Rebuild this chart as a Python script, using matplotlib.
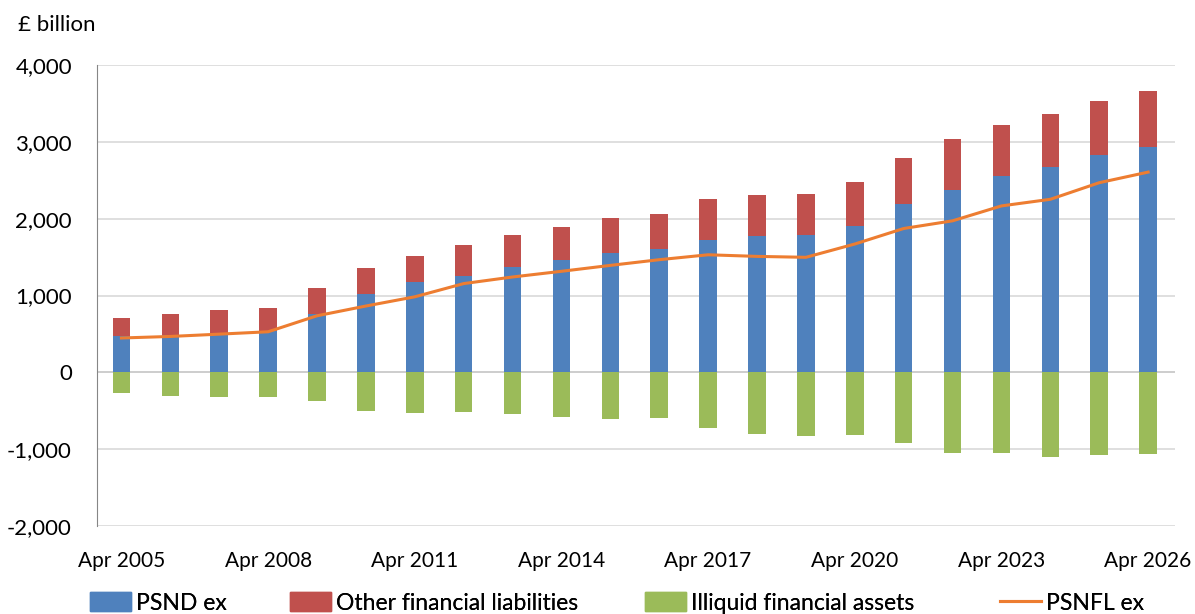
import numpy as np
import matplotlib.pyplot as plt
from matplotlib.patches import Patch
from matplotlib.lines import Line2D

# £ billion, one value per April from 2005 to 2026
years = list(range(2005, 2027))
psnd_ex = [467, 492, 518, 533, 761, 1015, 1172, 1259, 1375, 1466, 1552,
           1599, 1716, 1772, 1782, 1911, 2187, 2377, 2550, 2670, 2826, 2938]
other_liabilities = [244, 269, 289, 299, 335, 345, 345, 400, 409, 431, 457,
                     457, 538, 538, 539, 570, 604, 656, 664, 686, 707, 729]
illiquid_assets = [-264, -305, -325, -315, -371, -508, -526, -513, -547, -586, -612,
                   -595, -720, -802, -833, -820, -923, -1048, -1048, -1096, -1079, -1061]
psnfl_ex = [447, 467, 497, 528, 736, 863, 983, 1155, 1241, 1315, 1392,
            1466, 1530, 1509, 1497, 1670, 1872, 1972, 2166, 2252, 2468, 2606]

BLUE = "#4F81BD"
RED = "#C0504D"
GREEN = "#9BBB59"
ORANGE = "#ED7D31"

plt.rcParams["font.family"] = ["Lato", "DejaVu Sans"]

fig = plt.figure(figsize=(11.95, 6.14), dpi=100)
ax = fig.add_axes([97 / 1195, 1 - 526 / 614, (1175 - 97) / 1195, (526 - 65) / 614])

x = np.arange(len(years))
w = 0.36
ax.bar(x, psnd_ex, w, color=BLUE, zorder=2)
ax.bar(x, other_liabilities, w, bottom=psnd_ex, color=RED, zorder=2)
ax.bar(x, illiquid_assets, w, color=GREEN, zorder=2)
ax.plot(x, psnfl_ex, color=ORANGE, linewidth=2.2, zorder=3)

ax.set_xlim(-0.5, 21.55)
ax.set_ylim(-2000, 4000)
ax.set_yticks(range(-2000, 4001, 1000))
ax.set_yticklabels([f"{v:,}" for v in range(-2000, 4001, 1000)], fontsize=16)
ax.grid(axis="y", color="#D9D9D9", linewidth=1.2, zorder=0)
ax.axhline(0, color="#868686", linewidth=1.2, zorder=1)

tick_pos = x[::3]
ax.set_xticks(tick_pos)
ax.set_xticklabels([f"Apr {years[i]}" for i in tick_pos], fontsize=15)
ax.tick_params(axis="both", length=0)
ax.tick_params(axis="x", pad=18)
ax.tick_params(axis="y", pad=18)

for side in ["top", "right", "bottom"]:
    ax.spines[side].set_visible(False)
ax.spines["left"].set_color("#868686")

fig.text(18 / 1195, 1 - 25 / 614, "£ billion", fontsize=16, va="center", ha="left")

# one legend per entry, so each sits where the reference puts it
handles = [
    Patch(color=BLUE, label="PSND ex"),
    Patch(color=RED, label="Other financial liabilities"),
    Patch(color=GREEN, label="Illiquid financial assets"),
    Line2D([0], [0], color=ORANGE, linewidth=2.2, label="PSNFL ex"),
]
left_px = [90, 290, 645, 1000]
for h, px in zip(handles, left_px):
    leg = fig.legend(handles=[h], loc="center left", bbox_to_anchor=(px / 1195, 1 - 603 / 614),
                     frameon=False, fontsize=16.5, handlelength=1.8, handleheight=0.9,
                     handletextpad=0.2, borderpad=0, borderaxespad=0)
    fig.add_artist(leg)

fig.savefig("out.png", dpi=100)
